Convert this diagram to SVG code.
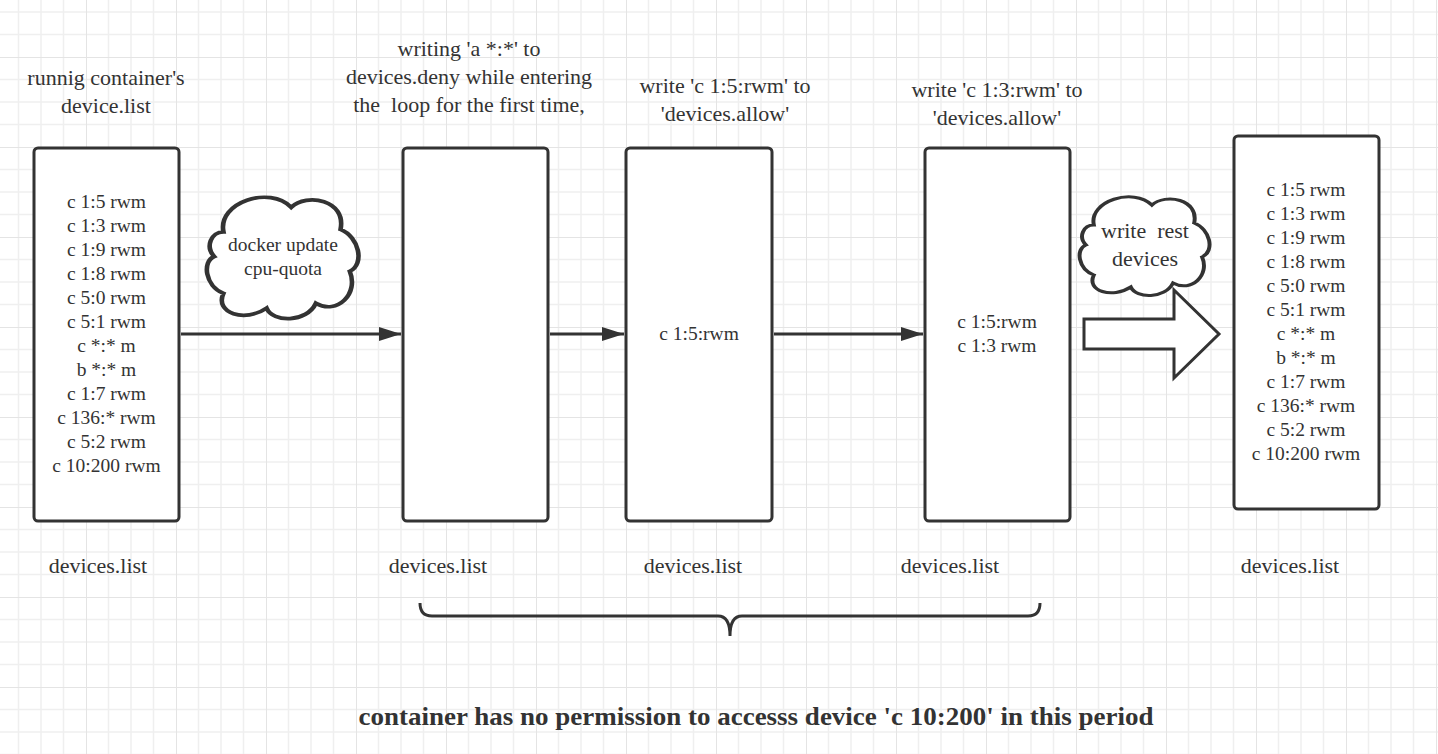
<svg xmlns="http://www.w3.org/2000/svg" width="1438" height="754" viewBox="0 0 1438 754">
<style>
.t{font-family:"Liberation Serif","Times New Roman",serif;fill:#333;text-anchor:middle;white-space:pre}
.lbl{font-size:22px}
.in{font-size:19.5px}
.box{fill:#fff;stroke:#333;stroke-width:3}
.ln{stroke:#333;stroke-width:3;fill:none}
.cloud{fill:#fff;stroke:#333;stroke-width:3}
</style>
<defs>
<pattern id="grid" patternUnits="userSpaceOnUse" x="86" y="57" width="90" height="90">
<path d="M22.5 0V90M45 0V90M67.5 0V90M0 22.5H90M0 45H90M0 67.5H90" stroke="#efefef" stroke-width="1.5" fill="none"/>
<path d="M0 0V90M0 0H90" stroke="#e4e4e4" stroke-width="2" fill="none"/>
</pattern>
<marker id="ah" viewBox="0 0 22 14" refX="22" refY="7" markerWidth="22" markerHeight="14" markerUnits="userSpaceOnUse" orient="auto">
<path d="M0 0L22 7L0 14Z" fill="#333"/>
</marker>
<path id="cl" d="M12 30C8 6 42 -8 56 10C66 -2 92 4 88 28C100 34 104 56 94 62C100 80 86 98 72 88C66 104 44 104 40 92C26 104 6 96 12 80C0 74 -2 54 6 50C0 42 4 30 12 30Z"/>
</defs>
<rect width="1438" height="754" fill="#fff"/>
<rect width="1438" height="754" fill="url(#grid)"/>

<g id="connectors">
<line class="ln" x1="181" y1="334" x2="401" y2="334" marker-end="url(#ah)"/>
<line class="ln" x1="550" y1="334" x2="624" y2="334" marker-end="url(#ah)"/>
<line class="ln" x1="774" y1="334" x2="923" y2="334" marker-end="url(#ah)"/>
<path class="ln" d="M420 603C420 612 424 616 432 616H718C726 616 730 622 730 636C730 622 734 616 742 616H1028C1036 616 1040 612 1040 603"/>
</g>

<g id="label-running">
<text class="t lbl" x="106" y="85">runnig container's</text>
<text class="t lbl" x="106" y="113">device.list</text>
</g>
<g id="box1">
<rect class="box" x="34" y="148" width="145" height="373" rx="4"/>
<text class="t in" x="106.5" y="208">c 1:5 rwm</text>
<text class="t in" x="106.5" y="232">c 1:3 rwm</text>
<text class="t in" x="106.5" y="256">c 1:9 rwm</text>
<text class="t in" x="106.5" y="280">c 1:8 rwm</text>
<text class="t in" x="106.5" y="304">c 5:0 rwm</text>
<text class="t in" x="106.5" y="328">c 5:1 rwm</text>
<text class="t in" x="106.5" y="352">c *:* m</text>
<text class="t in" x="106.5" y="376">b *:* m</text>
<text class="t in" x="106.5" y="400">c 1:7 rwm</text>
<text class="t in" x="106.5" y="424">c 136:* rwm</text>
<text class="t in" x="106.5" y="448">c 5:2 rwm</text>
<text class="t in" x="106.5" y="472">c 10:200 rwm</text>
</g>
<g id="label1"><text class="t lbl" x="98" y="573">devices.list</text></g>

<g id="cloud1">
<use href="#cl" class="cloud" transform="translate(205 195) scale(1.54 1.23)" style="vector-effect:non-scaling-stroke" vector-effect="non-scaling-stroke"/>
<text class="t in" x="283" y="251">docker update</text>
<text class="t in" x="283" y="275">cpu-quota</text>
</g>

<g id="label-writing">
<text class="t lbl" x="469" y="56">writing 'a *:*' to</text>
<text class="t lbl" x="469" y="84">devices.deny while entering</text>
<text class="t lbl" x="469" y="112" xml:space="preserve">the  loop for the first time,</text>
</g>
<g id="box2"><rect class="box" x="403" y="148" width="145" height="373" rx="4"/></g>
<g id="label2"><text class="t lbl" x="438" y="573">devices.list</text></g>

<g id="label-write15">
<text class="t lbl" x="725" y="93">write 'c 1:5:rwm' to</text>
<text class="t lbl" x="725" y="121">'devices.allow'</text>
</g>
<g id="box3">
<rect class="box" x="626" y="148" width="146" height="373" rx="4"/>
<text class="t in" x="699" y="340">c 1:5:rwm</text>
</g>
<g id="label3"><text class="t lbl" x="693" y="573">devices.list</text></g>

<g id="label-write13">
<text class="t lbl" x="997" y="97">write 'c 1:3:rwm' to</text>
<text class="t lbl" x="997" y="125">'devices.allow'</text>
</g>
<g id="box4">
<rect class="box" x="925" y="148" width="145" height="373" rx="4"/>
<text class="t in" x="997" y="328">c 1:5:rwm</text>
<text class="t in" x="997" y="352">c 1:3 rwm</text>
</g>
<g id="label4"><text class="t lbl" x="950" y="573">devices.list</text></g>

<g id="cloud2">
<use href="#cl" class="cloud" transform="translate(1078 195) scale(1.32 1.0)" vector-effect="non-scaling-stroke" style="vector-effect:non-scaling-stroke"/>
<text class="t lbl" x="1145" y="238" xml:space="preserve">write  rest</text>
<text class="t lbl" x="1145" y="266">devices</text>
</g>
<g id="block-arrow">
<path d="M1084 319H1174V290L1219 334L1174 378V349H1084Z" fill="#fff" stroke="#333" stroke-width="3" stroke-linejoin="miter"/>
</g>

<g id="box5">
<rect class="box" x="1234" y="136" width="145" height="373" rx="4"/>
<text class="t in" x="1306" y="196">c 1:5 rwm</text>
<text class="t in" x="1306" y="220">c 1:3 rwm</text>
<text class="t in" x="1306" y="244">c 1:9 rwm</text>
<text class="t in" x="1306" y="268">c 1:8 rwm</text>
<text class="t in" x="1306" y="292">c 5:0 rwm</text>
<text class="t in" x="1306" y="316">c 5:1 rwm</text>
<text class="t in" x="1306" y="340">c *:* m</text>
<text class="t in" x="1306" y="364">b *:* m</text>
<text class="t in" x="1306" y="388">c 1:7 rwm</text>
<text class="t in" x="1306" y="412">c 136:* rwm</text>
<text class="t in" x="1306" y="436">c 5:2 rwm</text>
<text class="t in" x="1306" y="460">c 10:200 rwm</text>
</g>
<g id="label5"><text class="t lbl" x="1290" y="573">devices.list</text></g>

<g id="note">
<text class="t" x="756" y="725" font-size="26" font-weight="bold" textLength="795" lengthAdjust="spacingAndGlyphs">container has no permission to accesss device 'c 10:200' in this period</text>
</g>
</svg>
